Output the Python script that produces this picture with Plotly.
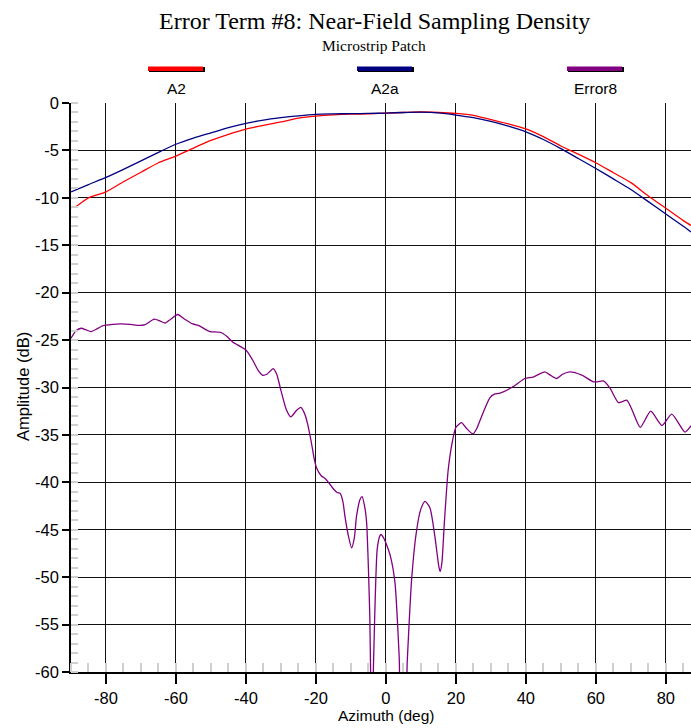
import plotly.graph_objects as go

# ---------------- data ----------------
az_a2 = [-90, -88.5, -87, -85, -80, -75, -70, -65, -60, -55, -50, -45, -40, -35, -30, -25, -20, -15, -10, -5,
         0, 5, 10, 15, 20, 25, 30, 35, 40, 45, 50, 55, 60, 65, 70, 75, 80, 85, 87.2]
a2 = [-11.03, -10.9, -10.5, -10.0, -9.37, -8.3, -7.3, -6.3, -5.6, -4.75, -3.95, -3.3, -2.75, -2.35, -2.0, -1.6,
      -1.38, -1.25, -1.18, -1.15, -1.06, -1.0, -0.95, -1.0, -1.1, -1.3, -1.75, -2.2, -2.73, -3.55, -4.53, -5.4,
      -6.3, -7.35, -8.4, -9.8, -11.1, -12.4, -12.9]

az_a2a = [-90, -85, -80, -75, -70, -65, -60, -55, -50, -45, -40, -35, -30, -25, -20, -15, -10, -5,
          0, 5, 10, 15, 20, 25, 30, 35, 40, 45, 50, 55, 60, 65, 70, 75, 80, 85, 87.2]
a2a = [-9.37, -8.6, -7.85, -7.0, -6.1, -5.2, -4.35, -3.7, -3.15, -2.6, -2.15, -1.8, -1.55, -1.35, -1.2, -1.15,
       -1.12, -1.1, -1.06, -1.0, -0.97, -1.05, -1.27, -1.55, -1.95, -2.45, -3.04, -3.85, -4.81, -5.85, -6.9,
       -8.0, -9.12, -10.4, -11.7, -13.0, -13.6]

az_err = [-90, -88.5, -87.1, -85.8, -84.3, -82.5, -81, -78, -76, -73, -70.5, -69, -66.2, -64.5, -63.1, -61.5,
          -59.5, -57.5, -55.2, -53.3, -51.5, -50.3, -47.1, -45.5, -43.8, -40, -38.1, -36.5, -35.3, -34, -32.2,
          -31.2, -30, -28.5, -27.2, -25.5, -24.3, -23.3, -22.4, -21.3, -20.5, -19.8, -18.5, -17.4, -16, -15,
          -13.8, -13.1, -12.3, -11.7, -10.8, -9.8, -9.0, -8.4, -7.4, -6.8, -6.0, -5.5, -5.0, -4.6, -4.1, -3.6,
          -3.2, -2.5, -1.8, -1.4, -0.6, 0, 1.3, 2.6, 3.8, 4.5, 5.4, 6.1, 7.4, 8.8, 10, 11.2, 12.6, 14.0, 15.1,
          15.5, 16.0, 16.7, 17.8, 19.1, 20, 21.6, 23, 24.9, 26, 27.3, 29.7, 31, 32.6, 36.4, 39.7, 42.1, 45.4,
          47, 48.8, 50.5, 52.6, 56, 59.3, 60.5, 62.2, 64.1, 66.5, 68.9, 70.5, 72.7, 75.7, 78.9, 81.7, 85.5,
          87.2, 88.5]
err8 = [-24.8, -24.0, -23.75, -23.9, -24.1, -23.8, -23.5, -23.35, -23.3, -23.35, -23.45, -23.4, -22.8, -23.0,
        -23.2, -22.8, -22.3, -22.8, -23.3, -23.5, -23.9, -24.1, -24.2, -24.6, -25.2, -26.05, -27.1, -28.2,
        -28.7, -28.6, -28.0, -28.6, -30.3, -32.3, -33.1, -32.4, -32.1, -32.7, -33.8, -35.8, -37.5, -38.5,
        -39.3, -39.6, -40.2, -40.7, -41.1, -41.15, -42.0, -43.6, -45.5, -46.9, -45.8, -43.6, -41.8, -41.5,
        -42.7, -44.3, -49.0, -54.2, -65.0, -60.0, -54.2, -47.1, -45.7, -45.5, -45.9, -46.4, -47.8, -50.6,
        -58.4, -65.0, -65.0, -58.9, -50.0, -45.0, -42.8, -42.0, -42.7, -45.7, -48.8, -49.4, -48.5, -44.3,
        -38.7, -35.5, -34.2, -33.7, -34.3, -34.9, -34.3, -33.1, -31.1, -30.7, -30.6, -29.9, -29.05, -28.9,
        -28.35, -28.7, -29.05, -28.6, -28.35, -28.7, -29.4, -29.4, -29.3, -30.1, -31.6, -31.35, -32.5, -34.2,
        -32.5, -34.0, -32.8, -34.7, -34.05, -33.5]

series_names = ["A2", "A2a", "Error8"]
series_colors = ["#ff0000", "#000080", "#800080"]

x_ticks = [-80, -60, -40, -20, 0, 20, 40, 60, 80]
y_ticks = [0, -5, -10, -15, -20, -25, -30, -35, -40, -45, -50, -55, -60]

title_text = "Error Term #8: Near-Field Sampling Density"
subtitle_text = "Microstrip Patch"

# ---------------- layout geometry (pixels) ----------------
W, H = 691, 728
L, R, T, B = 71, 691, 103, 672


def px(x):
    return (x - L) / (R - L)


def py(y):
    return (B - y) / (B - T)


fig = go.Figure()
for xs, ys, name, col in zip([az_a2, az_a2a, az_err], [a2, a2a, err8], series_names, series_colors):
    fig.add_trace(go.Scatter(x=xs, y=ys, mode="lines", name=name,
                             line=dict(color=col, width=1.3, shape="spline", smoothing=0.6)))

sans = "Arial, Liberation Sans, sans-serif"
serif = "Times New Roman, Liberation Serif, serif"

fig.update_layout(
    width=W, height=H,
    margin=dict(l=L, r=W - R, t=T, b=H - B, pad=0),
    paper_bgcolor="white", plot_bgcolor="white",
    showlegend=False,
    font=dict(family=sans, size=16, color="black"),
)

fig.update_xaxes(
    range=[-90, 87.2], tickvals=x_ticks, ticktext=[str(v) for v in x_ticks],
    showgrid=True, gridcolor="#111", gridwidth=1, zeroline=False,
    showline=True, linecolor="black", linewidth=1.5,
    ticks="outside", ticklen=10, tickcolor="black", tickwidth=1.5,
    tickfont=dict(family=sans, size=16.5),
    minor=dict(dtick=5, tick0=0, ticks="inside", ticklen=9, tickcolor="#cfcfcf", tickwidth=1.5, showgrid=False),
)
fig.update_yaxes(
    range=[-60, 0], tickvals=y_ticks, ticktext=[str(v) for v in y_ticks],
    showgrid=True, gridcolor="#111", gridwidth=1, zeroline=False,
    showline=True, linecolor="black", linewidth=1.5,
    ticks="outside", ticklen=7, tickcolor="black", tickwidth=1.5,
    tickfont=dict(family=sans, size=16.5),
    minor=dict(dtick=1, tick0=0, ticks="inside", ticklen=7, tickcolor="#cfcfcf", tickwidth=1.5, showgrid=False),
)

annotations = [
    dict(text=title_text, x=px(374), y=py(21), xref="paper", yref="paper", showarrow=False,
         xanchor="center", yanchor="middle", font=dict(family=serif, size=24, color="black")),
    dict(text=subtitle_text, x=px(374), y=py(45), xref="paper", yref="paper", showarrow=False,
         xanchor="center", yanchor="middle", font=dict(family=serif, size=15.5, color="black")),
    dict(text="Amplitude (dB)", x=px(23), y=py(387), xref="paper", yref="paper", showarrow=False,
         textangle=-90, xanchor="center", yanchor="middle", font=dict(family=sans, size=16.5, color="black")),
    dict(text="Azimuth (deg)", x=px(386), y=py(715), xref="paper", yref="paper", showarrow=False,
         xanchor="center", yanchor="middle", font=dict(family=sans, size=15.5, color="black")),
]

shapes = []
legend_centers = [176, 385, 595]
for cx, name, col in zip(legend_centers, series_names, series_colors):
    # shadow
    shapes.append(dict(type="rect", xref="paper", yref="paper",
                       x0=px(cx - 27), x1=px(cx + 29), y0=py(72), y1=py(67),
                       fillcolor="black", line=dict(width=0)))
    shapes.append(dict(type="rect", xref="paper", yref="paper",
                       x0=px(cx - 28), x1=px(cx + 27), y0=py(71), y1=py(66.5),
                       fillcolor=col, line=dict(width=0)))
    annotations.append(dict(text=name, x=px(cx), y=py(89), xref="paper", yref="paper", showarrow=False,
                            xanchor="center", yanchor="middle", font=dict(family=sans, size=15.5, color="black")))

fig.update_layout(annotations=annotations, shapes=shapes)

fig.write_html("out.html")
